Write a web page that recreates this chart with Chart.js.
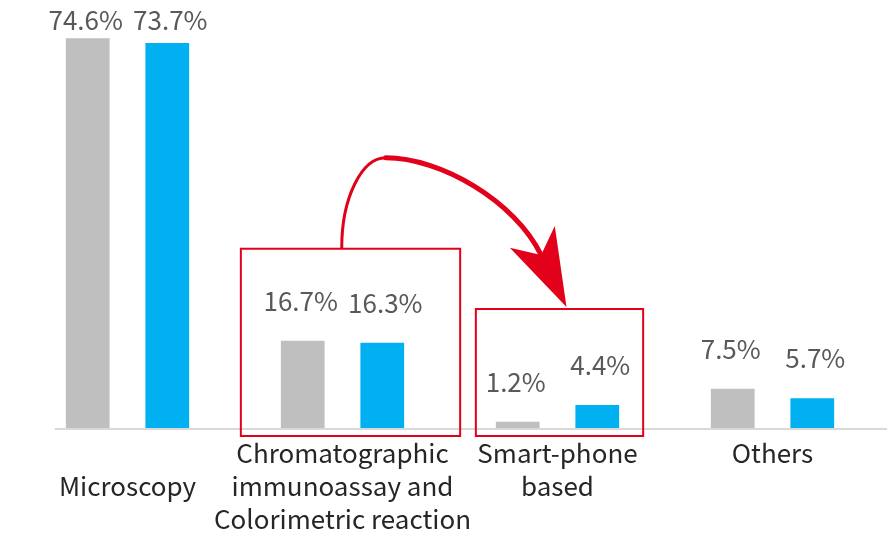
<!DOCTYPE html>
<html>
<head>
<meta charset="utf-8">
<script src="https://cdn.jsdelivr.net/npm/chart.js@4.4.1/dist/chart.umd.min.js"></script>
<style>
  html, body { margin: 0; padding: 0; background: #fff; }
  #wrap { width: 887px; height: 534px; }
</style>
</head>
<body>
<div id="wrap"><canvas id="chart"></canvas></div>
<script>
// categories and the two series (gray / blue)
const categories = [
    ['', 'Microscopy'],
    ['Chromatographic', 'immunoassay and', 'Colorimetric reaction'],
    ['Smart-phone', 'based'],
    'Others'
];
const grayValues = [74.6, 16.7, 1.2, 7.5];
const blueValues = [73.7, 16.3, 4.4, 5.7];

const FONT = '"Noto Sans CJK KR", "Noto Sans", sans-serif';
const RED = '#e3001b';

// baseline drawn under the bars
const baseLine = {
    id: 'baseLine',
    beforeDatasetsDraw(chart) {
        const ctx = chart.ctx;
        const first = chart.getDatasetMeta(0).data[0];
        const y = chart.scales.y.getPixelForValue(0);
        ctx.save();
        ctx.strokeStyle = '#d9d9d9';
        ctx.lineWidth = 2;
        ctx.beginPath();
        ctx.moveTo(first.x - first.width / 2 - 11, y + 1);
        ctx.lineTo(chart.width, y + 1);
        ctx.stroke();
        ctx.restore();
    }
};

// "xx.x%" above each bar
const valueLabels = {
    id: 'valueLabels',
    afterDatasetsDraw(chart) {
        const ctx = chart.ctx;
        ctx.save();
        ctx.font = '26px ' + FONT;
        ctx.fillStyle = '#595959';
        ctx.textAlign = 'center';
        ctx.textBaseline = 'middle';
        chart.data.datasets.forEach((ds, i) => {
            const dx = i === 0 ? -2 : 3;
            chart.getDatasetMeta(i).data.forEach((bar, j) => {
                const y = Math.max(bar.y - 40, 20);
                ctx.fillText(ds.data[j].toFixed(1) + '%', bar.x + dx, y);
            });
        });
        ctx.restore();
    }
};

// red boxes + curved arrow
const highlight = {
    id: 'highlight',
    afterDraw(chart) {
        const ctx = chart.ctx;
        const g = chart.getDatasetMeta(0).data;
        const b = chart.getDatasetMeta(1).data;
        const base = chart.scales.y.getPixelForValue(0);

        function box(i, padL, padR, padTop) {
            return {
                left: g[i].x - g[i].width / 2 - padL,
                right: b[i].x + b[i].width / 2 + padR,
                top: Math.min(g[i].y, b[i].y) - padTop,
                bottom: base + 8
            };
        }
        const b1 = box(1, 40, 56, 92);
        const b2 = box(2, 20, 24, 96);

        ctx.save();
        ctx.strokeStyle = RED;
        ctx.lineWidth = 2;
        [b1, b2].forEach(r => ctx.strokeRect(r.left, r.top, r.right - r.left, r.bottom - r.top));

        // arrow
        const s = { x: b1.left + (b1.right - b1.left) * 0.46, y: b1.top - 1 };
        const peak = { x: s.x + 44, y: s.y - 90 };
        const tip = { x: (b2.left + b2.right) / 2 + 7, y: b2.top - 2 };
        const ang = 64 * Math.PI / 180;
        const u = { x: Math.cos(ang), y: Math.sin(ang) };
        const n = { x: -u.y, y: u.x };
        const notch = { x: tip.x - u.x * 58, y: tip.y - u.y * 58 };

        ctx.strokeStyle = RED;
        ctx.lineCap = 'round';
        ctx.lineWidth = 3;
        ctx.beginPath();
        ctx.moveTo(s.x, s.y);
        ctx.bezierCurveTo(s.x, s.y - 50, peak.x - 24, peak.y, peak.x, peak.y);
        ctx.stroke();
        ctx.lineWidth = 5;
        ctx.beginPath();
        ctx.moveTo(peak.x, peak.y);
        ctx.bezierCurveTo(peak.x + 55, peak.y, notch.x - u.x * 60, notch.y - u.y * 60, notch.x, notch.y);
        ctx.stroke();

        // stealth arrow head
        const L = 78, W = 25;
        ctx.fillStyle = RED;
        ctx.beginPath();
        ctx.moveTo(tip.x, tip.y);
        ctx.lineTo(tip.x - u.x * L + n.x * W, tip.y - u.y * L + n.y * W);
        ctx.lineTo(notch.x, notch.y);
        ctx.lineTo(tip.x - u.x * L - n.x * W, tip.y - u.y * L - n.y * W);
        ctx.closePath();
        ctx.fill();
        ctx.restore();
    }
};

new Chart(document.getElementById('chart'), {
    type: 'bar',
    data: {
        labels: categories,
        datasets: [
            {
                label: 'Gray',
                data: grayValues,
                backgroundColor: '#bfbfbf',
                categoryPercentage: 0.74,
                barPercentage: 0.55
            },
            {
                label: 'Blue',
                data: blueValues,
                backgroundColor: '#00b0f0',
                categoryPercentage: 0.74,
                barPercentage: 0.55
            }
        ]
    },
    options: {
        responsive: true,
        maintainAspectRatio: false,
        animation: false,
        layout: { padding: { top: 10, left: 20, right: 7, bottom: 0 } },
        plugins: {
            legend: { display: false },
            tooltip: { enabled: false }
        },
        scales: {
            x: {
                grid: { display: false, drawTicks: false },
                border: { display: false },
                afterFit(scale) { scale.height = 106; },
                ticks: {
                    color: '#262626',
                    font: { family: FONT, size: 26, lineHeight: 1.27 },
                    padding: 9,
                    maxRotation: 0,
                    autoSkip: false
                }
            },
            y: {
                display: false,
                min: 0,
                max: 80
            }
        }
    },
    plugins: [baseLine, valueLabels, highlight]
});
</script>
</body>
</html>
